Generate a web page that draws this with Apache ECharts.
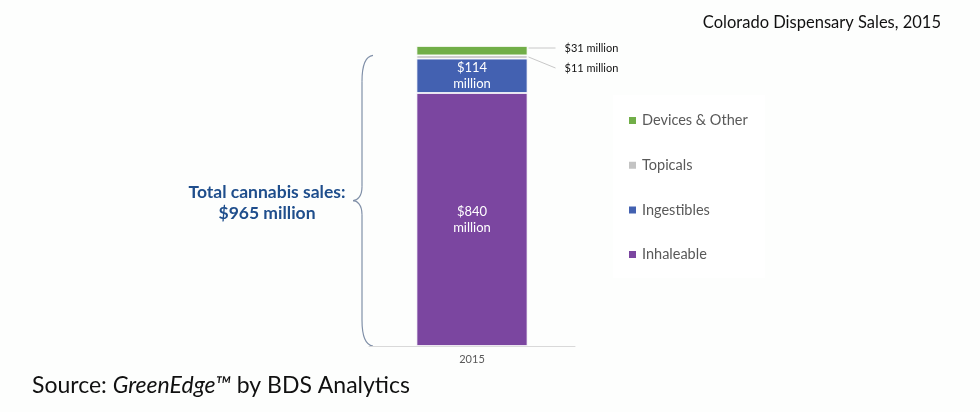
<!DOCTYPE html>
<html><head><meta charset="utf-8">
<script src="https://cdn.jsdelivr.net/npm/echarts@6/dist/echarts.min.js"></script>
<style>html,body{margin:0;padding:0;background:#fdfefd}#c{width:980px;height:412px}</style>
</head><body><div id="c"></div>
<script>
const categories = ['2015'];
const seriesNames = ['Inhaleable', 'Ingestibles', 'Topicals', 'Devices & Other'];
const inhaleable = [840];
const ingestibles = [114];
const topicals = [11];
const devices = [31];
const totalLabel = 'Total cannabis sales:\n$965 million';
const title = 'Colorado Dispensary Sales, 2015';

const colors = ['#7B46A0', '#4361B1', '#C3C3C3', '#71AE48'];
const values = [inhaleable, ingestibles, topicals, devices];
const FONT = 'Lato';
const chart = echarts.init(document.getElementById('c'));
const total = values.reduce((s, a) => s + a[0], 0);

const series = seriesNames.map((n, i) => ({
  name: n, type: 'bar', stack: 'all', data: values[i], barWidth: 111,
  itemStyle: { color: colors[i], borderColor: '#ffffff', borderWidth: 0.8 },
  label: {
    show: i < 2, position: 'inside', color: '#ffffff', fontFamily: FONT, fontSize: 13, lineHeight: 16,
    formatter: p => '$' + p.value + '\nmillion'
  },
  emphasis: { disabled: true }
}));

chart.setOption({
  animation: false,
  backgroundColor: '#fdfefd',
  color: colors,
  title: { text: title, right: 34, top: 9, textStyle: { fontFamily: FONT, fontSize: 16.5, fontWeight: 'normal', color: '#111' } },
  grid: { left: 369, right: 405, top: 46, bottom: 66 },
  xAxis: { type: 'category', data: categories,
    axisLine: { lineStyle: { color: '#d9d9d9' } }, axisTick: { show: false },
    axisLabel: { color: '#595959', fontFamily: FONT, fontSize: 11, margin: 8 } },
  yAxis: { type: 'value', min: 0, max: total, show: false, splitLine: { show: false } },
  legend: {
    orient: 'vertical', left: 622, top: 108, itemGap: 29.7, itemWidth: 9, itemHeight: 9,
    icon: 'rect', data: seriesNames.slice().reverse(),
    textStyle: { color: '#595959', fontFamily: FONT, fontSize: 14.5 }
  },
  series: series
});

function draw() {
  const xc = chart.convertToPixel({ xAxisIndex: 0 }, categories[0]);
  const right = xc + 111 / 2 + 1;
  const y = v => chart.convertToPixel({ yAxisIndex: 0 }, v);
  const base = inhaleable[0] + ingestibles[0];
  const yTop = y(base + topicals[0]);
  const yZero = y(0);
  const yGreen = y(total) + 2;
  const yGray = y(base + topicals[0] / 2);
  const bx = 373, mx = 353, vx = 362, mid = (yTop + yZero) / 2;
  const bs = { stroke: '#8090a8', lineWidth: 1.2, fill: null };
  const bz = (x1, y1, c1x, c1y, c2x, c2y, x2, y2) => ({ type: 'bezierCurve', shape: { x1, y1, cpx1: c1x, cpy1: c1y, cpx2: c2x, cpy2: c2y, x2, y2 }, style: bs });
  chart.setOption({
    graphic: [
      { type: 'rect', shape: { x: 613, y: 95, width: 152, height: 183 }, style: { fill: '#ffffff' }, z: -1 },
      bz(bx, yTop, vx + 2, yTop + 1, vx, yTop + 12, vx, yTop + 26),
      { type: 'line', shape: { x1: vx, y1: yTop + 26, x2: vx, y2: mid - 14 }, style: bs },
      bz(vx, mid - 14, vx, mid - 4, mx + 4, mid, mx, mid),
      bz(mx, mid, mx + 4, mid, vx, mid + 4, vx, mid + 14),
      { type: 'line', shape: { x1: vx, y1: mid + 14, x2: vx, y2: yZero - 26 }, style: bs },
      bz(vx, yZero - 26, vx, yZero - 12, vx + 2, yZero - 1, bx, yZero),
      { type: 'text', x: 267, y: mid + 2, style: { text: totalLabel, fill: '#1F4E8C', font: `bold 17.5px ${FONT}`, align: 'center', verticalAlign: 'middle', lineHeight: 21 } },
      { type: 'line', shape: { x1: right, y1: yGreen, x2: right + 27, y2: yGreen }, style: { stroke: '#c8c8c8', lineWidth: 1 } },
      { type: 'line', shape: { x1: right, y1: yGray, x2: right + 27, y2: yGreen + 20 }, style: { stroke: '#c8c8c8', lineWidth: 1 } },
      { type: 'text', x: right + 36, y: yGreen, style: { text: '$' + devices[0] + ' million', fill: '#111', font: `11px ${FONT}`, verticalAlign: 'middle' } },
      { type: 'text', x: right + 36, y: yGreen + 20, style: { text: '$' + topicals[0] + ' million', fill: '#111', font: `11px ${FONT}`, verticalAlign: 'middle' } },
      { type: 'text', x: 32, y: 386, style: { rich: { n: { fontFamily: FONT, fontSize: 23, fill: '#111' }, i: { fontFamily: FONT, fontSize: 23, fontStyle: 'italic', fill: '#111' } }, text: '{n|Source: }{i|GreenEdge™}{n| by BDS Analytics}', verticalAlign: 'middle' } }
    ]
  });
}
draw();
</script></body></html>
